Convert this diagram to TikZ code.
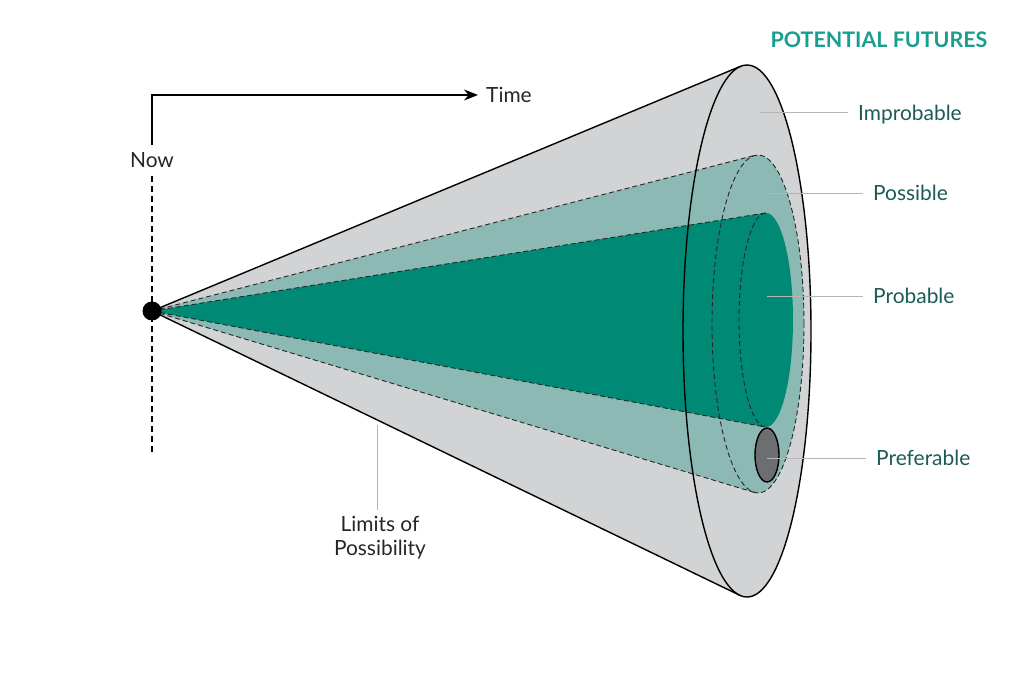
\documentclass[tikz,border=0pt]{standalone}
\usepackage{fontspec}
\setmainfont{Lato}
\usepackage{tikz}
\usetikzlibrary{arrows.meta}
\usetikzlibrary{positioning,calc}
\definecolor{conegray}{HTML}{D1D3D4}
\definecolor{possteal}{HTML}{8CB9B4}
\definecolor{probteal}{HTML}{008A76}
\definecolor{prefgray}{HTML}{6D6E71}
\definecolor{titleteal}{HTML}{1A9E8F}
\definecolor{labelteal}{HTML}{1B5A56}
\definecolor{leadgray}{HTML}{B5B5B5}
\tikzset{>={Stealth[length=14bp,width=11bp]}}

\begin{document}
\begin{tikzpicture}[x=1bp, y=-1bp,
	edge/.style={draw=black, line width=1.4bp},
	hidden/.style={draw=black!85, line width=0.9bp, dash pattern=on 5bp off 3bp},
	leader/.style={draw=leadgray, line width=1bp},
	tag/.style={text=labelteal, font=\fontsize{21}{24}\selectfont,
		inner xsep=10bp, inner ysep=0pt, anchor=west},
	note/.style={text=black!85, font=\fontsize{21}{24}\selectfont,
		inner sep=2bp, align=center}]
	\useasboundingbox (0,0) rectangle (1024,673);
	%% Cone points
	\coordinate (O) at (152,311);
	\coordinate (Ot) at (740.6,66.3);
	\coordinate (Ob) at (739.6,595.2);
	\coordinate (Pt) at (754.8,155.4);
	\coordinate (Pb) at (754.2,492.4);
	\coordinate (Qt) at (764.9,213.1);
	\coordinate (Qb) at (764.7,426.9);
	%% Fills
	\fill [conegray] (O) -- (Ot) -- (Ob) -- cycle;
	\fill [conegray] (747,331) ellipse [x radius=64bp, y radius=266bp];
	\fill [possteal] (O) -- (Pt) -- (Pb) -- cycle;
	\fill [possteal] (758,324) ellipse [x radius=46bp, y radius=169bp];
	\fill [probteal] (O) -- (Qt) -- (Qb) -- cycle;
	\fill [probteal] (766,320) ellipse [x radius=27bp, y radius=107bp];
	%% Hidden edges
	\path [hidden] (O) -- (Pt) (O) -- (Pb);
	\path [hidden] (758,324) ellipse [x radius=46bp, y radius=169bp];
	\path [hidden] (O) -- (Qt) (O) -- (Qb);
	\path [hidden] (766,213) arc [start angle=90, end angle=270, x radius=27bp, y radius=107bp];
	\draw [fill=prefgray, line width=1.4bp] (767,455) ellipse [x radius=12bp, y radius=27bp];
	%% Outer cone
	\path [edge] (O) -- (Ot) (O) -- (Ob);
	\path [edge] (747,331) ellipse [x radius=64bp, y radius=266bp];
	%% Labels
	\node [text=titleteal, font=\bfseries\fontsize{21.5}{24}\selectfont] (title) at (879,40) {POTENTIAL FUTURES};
	\coordinate (imp-pt) at (760,113);
	\coordinate (pos-pt) at (765,193);
	\coordinate (prob-pt) at (767,296);
	\coordinate (pref-pt) at (767,458);
	\node [tag] (improbable) at (848,115) {Improbable};
	\node [tag] (possible) at (863,193) {Possible};
	\node [tag] (probable) at (863,296) {Probable};
	\node [tag] (preferable) at (866,458) {Preferable};
	\path [leader] (imp-pt) -- (imp-pt -| improbable.west);
	\path [leader] (pos-pt) -- (pos-pt -| possible.west);
	\path [leader] (prob-pt) -- (prob-pt -| probable.west);
	\path [leader] (pref-pt) -- (pref-pt -| preferable.west);
	\coordinate (lim-pt) at (377,425);
	\node [note, inner ysep=6bp] (limits) at (380,538) {Limits of\\Possibility};
	\path [leader] (lim-pt) -- (lim-pt |- limits.north);
	%% Time axis
	\node [note] (now) at (152,160) {Now};
	\node [note, anchor=west, inner xsep=8bp] (time) at (478,95) {Time};
	\draw [->, line width=1.6bp] ([yshift=5bp]now.north) |- (time.west);
	\coordinate (now-end) at (152,455);
	\draw [line width=1.5bp, dash pattern=on 6bp off 4bp] ([yshift=-6bp]now.south) -- (now-end);
	\fill [black] (O) circle [radius=9.5bp];
\end{tikzpicture}
\end{document}
